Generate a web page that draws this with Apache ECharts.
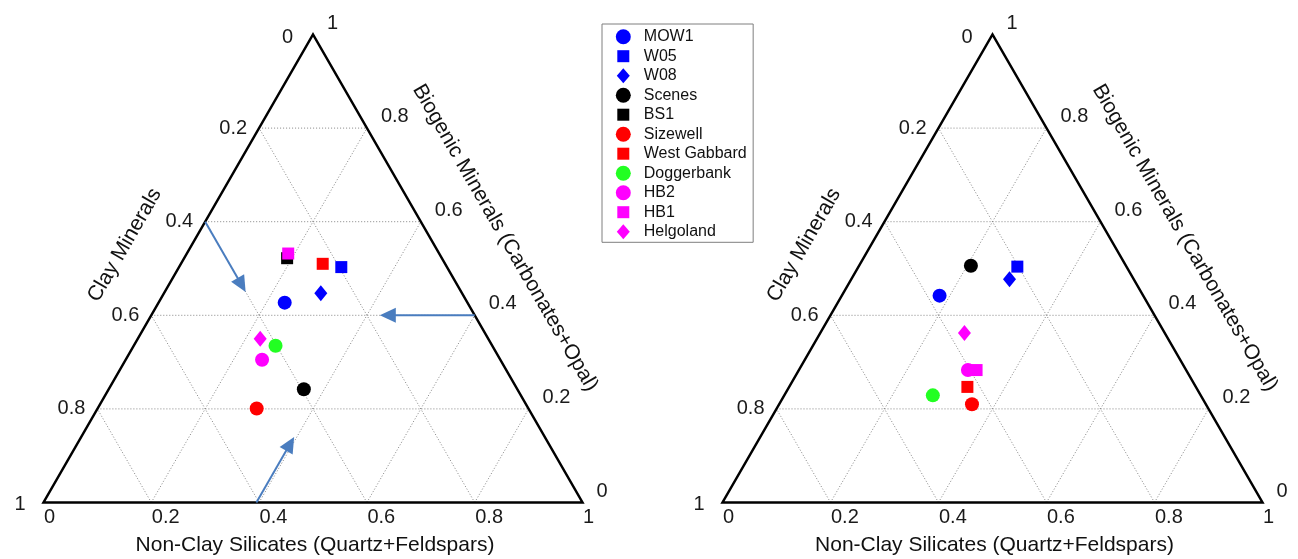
<!DOCTYPE html>
<html>
<head>
<meta charset="utf-8">
<title>Ternary mineral composition</title>
<script src="https://cdn.jsdelivr.net/npm/echarts@6/dist/echarts.min.js"></script>
<style>
  html, body { margin: 0; padding: 0; background: #ffffff; }
  #chart { width: 1298px; height: 559px; }
</style>
</head>
<body>
<div id="chart"></div>
<script>
// Sampling sites, in legend order
const sites = ['MOW1', 'W05', 'W08', 'Scenes', 'BS1', 'Sizewell', 'West Gabbard', 'Doggerbank', 'HB2', 'HB1', 'Helgoland'];
const siteColors = ['#0000ff', '#0000ff', '#0000ff', '#000000', '#000000', '#ff0000', '#ff0000', '#22ff22', '#ff00ff', '#ff00ff', '#ff00ff'];
const siteShapes = ['circle', 'square', 'diamond', 'circle', 'square', 'circle', 'square', 'circle', 'circle', 'square', 'diamond'];

// Left diagram: mass fractions (non-clay silicates, clay minerals, biogenic minerals)
const leftNonClay  = [0.234, 0.301, 0.291, 0.362, 0.191, 0.295, 0.263, 0.263, 0.253, 0.188, 0.227];
const leftClay     = [0.339, 0.196, 0.262, 0.396, 0.287, 0.504, 0.227, 0.402, 0.442, 0.280, 0.423];
const leftBiogenic = [0.427, 0.503, 0.447, 0.242, 0.522, 0.201, 0.510, 0.335, 0.305, 0.532, 0.350];

// Right diagram: same components (no BS1 sample)
const rightNonClay  = [0.181, 0.294, 0.293, 0.207, null, 0.357, 0.330, 0.275, 0.313, 0.329, 0.267];
const rightClay     = [0.377, 0.202, 0.230, 0.287, null, 0.433, 0.423, 0.496, 0.404, 0.388, 0.371];
const rightBiogenic = [0.442, 0.504, 0.477, 0.506, null, 0.210, 0.247, 0.229, 0.283, 0.283, 0.362];

// Reading-guide arrows on the left diagram: [non-clay, clay, biogenic] at tail and head
const arrowTails = [[0.000, 0.400, 0.600], [0.600, 0.000, 0.400], [0.395, 0.605, 0.000]];
const arrowHeads = [[0.150, 0.400, 0.450], [0.424, 0.176, 0.400], [0.395, 0.465, 0.140]];

// Axis ticks and grid levels
const ticks = [0, 0.2, 0.4, 0.6, 0.8, 1];
const tickLabels = ['0', '0.2', '0.4', '0.6', '0.8', '1'];
const gridLevels = [0.2, 0.4, 0.6, 0.8];
const axisTitles = ['Non-Clay Silicates (Quartz+Feldspars)', 'Clay Minerals', 'Biogenic Minerals (Carbonates+Opal)'];

const FONT = '"Liberation Sans", Arial, Helvetica, sans-serif';
const ARROW_COLOR = '#4a7dbf';

// Ternary composition -> cartesian position inside the unit triangle
// (clay at bottom-left, non-clay at bottom-right, biogenic at the apex)
function toXY(n, c, b) {
  const s = n + c + b;
  return [(n + b / 2) / s, b / s];
}

function gridSegments() {
  const segs = [];
  gridLevels.forEach(t => {
    segs.push([t / 2, t, 1 - t / 2, t]);            // constant biogenic
    segs.push([t, 0, t + (1 - t) / 2, 1 - t]);      // constant non-clay
    segs.push([1 - t, 0, (1 - t) / 2, 1 - t]);      // constant clay
  });
  return segs;
}

function tickItems() {
  const items = [];
  ticks.forEach((t, i) => {
    items.push([t, 0, 0, i]);                       // non-clay along the base
    items.push([1 - t / 2, t, 1, i]);               // biogenic along the right side
    items.push([(1 - t) / 2, 1 - t, 2, i]);         // clay along the left side
  });
  return items;
}

function renderSegment(params, api) {
  const p1 = api.coord([api.value(0), api.value(1)]);
  const p2 = api.coord([api.value(2), api.value(3)]);
  return {
    type: 'line',
    shape: { x1: p1[0], y1: p1[1], x2: p2[0], y2: p2[1] },
    style: { stroke: '#858585', lineWidth: 1, lineDash: [1, 2] }
  };
}

function renderFrame(params, api) {
  return {
    type: 'polygon',
    shape: { points: [api.coord([0, 0]), api.coord([1, 0]), api.coord([0.5, 1])] },
    style: { stroke: '#000000', lineWidth: 2.5, fill: null, lineJoin: 'miter' }
  };
}

function renderTick(params, api) {
  const p = api.coord([api.value(0), api.value(1)]);
  const side = api.value(2);
  const i = api.value(3);
  let dx, dy, align;
  if (side === 0) { dx = 0.5; dy = 15; align = 'left'; }
  else if (side === 1) { dx = 14; dy = -11.5; align = 'left'; }
  else {
    align = 'right';
    if (i === 0) { dx = -20; dy = 3; }
    else if (i === ticks.length - 1) { dx = -18; dy = 2; }
    else { dx = -12; dy = 0; }
  }
  return {
    type: 'text',
    x: p[0] + dx,
    y: p[1] + dy,
    style: { text: tickLabels[i], font: '20px ' + FONT, fill: '#1a1a1a', align: align, verticalAlign: 'middle' }
  };
}

function renderTitles(params, api) {
  const bl = api.coord([0, 0]), br = api.coord([1, 0]), top = api.coord([0.5, 1]);
  const lerp = (a, b, f) => [a[0] + (b[0] - a[0]) * f, a[1] + (b[1] - a[1]) * f];
  const base = lerp(bl, br, 0.5);
  const left = lerp(bl, top, 0.488);
  const right = lerp(br, top, 0.496);
  const s = '21px ' + FONT;
  return {
    type: 'group',
    children: [
      { type: 'text', x: base[0] + 2, y: base[1] + 42.5,
        style: { text: axisTitles[0], font: s, fill: '#111', align: 'center', verticalAlign: 'middle' } },
      { type: 'text', x: left[0] - 58 * 0.866, y: left[1] - 58 * 0.5, rotation: Math.PI / 3,
        style: { text: axisTitles[1], font: s, fill: '#111', align: 'center', verticalAlign: 'middle' } },
      { type: 'text', x: right[0] + 65 * 0.866, y: right[1] - 65 * 0.5, rotation: -Math.PI / 3,
        style: { text: axisTitles[2], font: s, fill: '#111', align: 'center', verticalAlign: 'middle' } }
    ]
  };
}

function renderArrow(params, api) {
  const p1 = api.coord([api.value(0), api.value(1)]);
  const p2 = api.coord([api.value(2), api.value(3)]);
  const dx = p2[0] - p1[0], dy = p2[1] - p1[1];
  const len = Math.sqrt(dx * dx + dy * dy);
  const ux = dx / len, uy = dy / len;
  const headLen = 16, halfW = 7.5;
  const bx = p2[0] - ux * headLen, by = p2[1] - uy * headLen;
  return {
    type: 'group',
    children: [
      { type: 'line', shape: { x1: p1[0], y1: p1[1], x2: bx + ux * 2, y2: by + uy * 2 },
        style: { stroke: ARROW_COLOR, lineWidth: 2 } },
      { type: 'polygon',
        shape: { points: [[p2[0], p2[1]], [bx - uy * halfW, by + ux * halfW], [bx + uy * halfW, by - ux * halfW]] },
        style: { fill: ARROW_COLOR } }
    ]
  };
}

const shapeSymbol = { circle: 'circle', square: 'rect', diamond: 'diamond' };
const shapeSize = { circle: 14, square: 12, diamond: [13, 16] };
const legendIcon = {
  circle: 'circle',
  square: 'path://M0,0M15,15M1.5,1.5L13.5,1.5L13.5,13.5L1.5,13.5Z',
  diamond: 'path://M0,0M15,15M7.5,0L14,7.5L7.5,15L1,7.5Z'
};

const panels = [
  { nonClay: leftNonClay, clay: leftClay, biogenic: leftBiogenic, arrows: true },
  { nonClay: rightNonClay, clay: rightClay, biogenic: rightBiogenic, arrows: false }
];

const series = [];
panels.forEach((panel, k) => {
  const axes = { xAxisIndex: k, yAxisIndex: k };
  series.push(Object.assign({
    type: 'custom', renderItem: renderSegment, data: gridSegments(),
    encode: { x: [0, 2], y: [1, 3] }, silent: true, z: 1
  }, axes));
  series.push(Object.assign({
    type: 'custom', renderItem: renderFrame, data: [[0, 0]], silent: true, z: 2
  }, axes));
  series.push(Object.assign({
    type: 'custom', renderItem: renderTick, data: tickItems(),
    encode: { x: 0, y: 1 }, silent: true, z: 2
  }, axes));
  series.push(Object.assign({
    type: 'custom', renderItem: renderTitles, data: [[0, 0]], silent: true, z: 2
  }, axes));
  if (panel.arrows) {
    const arrowData = arrowTails.map((t, i) => {
      const a = toXY(t[0], t[1], t[2]);
      const h = toXY(arrowHeads[i][0], arrowHeads[i][1], arrowHeads[i][2]);
      return [a[0], a[1], h[0], h[1]];
    });
    series.push(Object.assign({
      type: 'custom', renderItem: renderArrow, data: arrowData,
      encode: { x: [0, 2], y: [1, 3] }, silent: true, z: 3
    }, axes));
  }
  sites.forEach((name, i) => {
    const data = panel.nonClay[i] == null ? [] :
      [toXY(panel.nonClay[i], panel.clay[i], panel.biogenic[i])];
    series.push(Object.assign({
      type: 'scatter',
      name: name,
      data: data,
      symbol: shapeSymbol[siteShapes[i]],
      symbolSize: shapeSize[siteShapes[i]],
      itemStyle: { color: siteColors[i], opacity: 1 },
      silent: true,
      z: 4
    }, axes));
  });
});

const axisBase = { type: 'value', min: 0, max: 1, show: false };

const option = {
  animation: false,
  backgroundColor: '#ffffff',
  grid: [
    { left: 43.5, top: 34.5, width: 539, height: 468 },
    { left: 722.5, top: 34.5, width: 540, height: 468 }
  ],
  xAxis: [Object.assign({ gridIndex: 0 }, axisBase), Object.assign({ gridIndex: 1 }, axisBase)],
  yAxis: [Object.assign({ gridIndex: 0 }, axisBase), Object.assign({ gridIndex: 1 }, axisBase)],
  legend: {
    orient: 'vertical',
    left: 602,
    top: 24,
    padding: [4.7, 6.5, 2.6, 13.8],
    itemGap: 3.5,
    itemWidth: 15,
    itemHeight: 15,
    selectedMode: false,
    borderColor: '#7f7f7f',
    borderWidth: 1,
    backgroundColor: '#ffffff',
    textStyle: { fontFamily: FONT, fontSize: 16, color: '#111', lineHeight: 16, padding: [0, 0, 0, 8] },
    data: sites.map((name, i) => ({
      name: name,
      icon: legendIcon[siteShapes[i]],
      itemStyle: { color: siteColors[i] }
    }))
  },
  series: series
};

const chart = echarts.init(document.getElementById('chart'), null, { renderer: 'canvas' });
chart.setOption(option);
</script>
</body>
</html>
